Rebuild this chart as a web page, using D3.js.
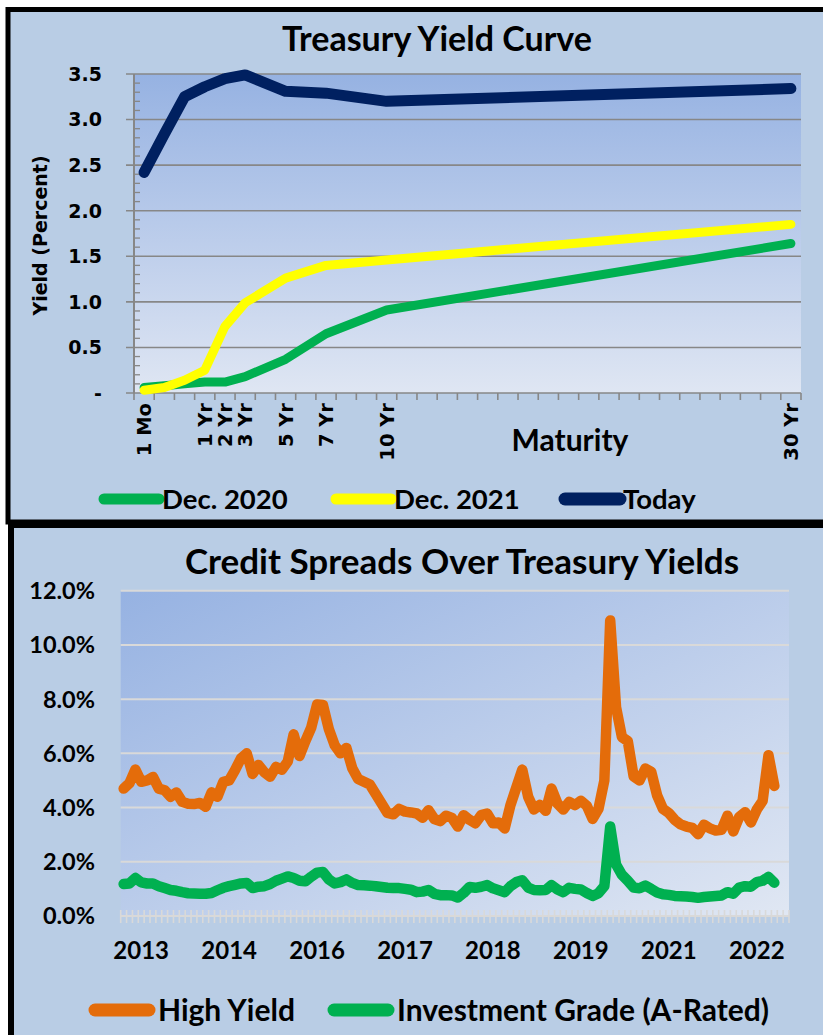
<!DOCTYPE html>
<html>
<head>
<meta charset="utf-8">
<script src="https://cdn.jsdelivr.net/npm/d3@7"></script>
<style>
  html, body { margin: 0; padding: 0; background: #ffffff; }
  svg { display: block; }
</style>
</head>
<body>
<svg id="chart" width="823" height="1035"></svg>
<script>
// ---- Treasury yield curve data ----
const maturityLabels = ["1 Mo", "3 Mo", "6 Mo", "1 Yr", "2 Yr", "3 Yr", "5 Yr", "7 Yr", "10 Yr", "30 Yr"];
// slot of each maturity on the 33-slot category axis
const maturitySlots = [0, 1, 2, 3, 4, 5, 7, 9, 12, 32];
const maturityTickLabels = ["1 Mo", "1 Yr", "2 Yr", "3 Yr", "5 Yr", "7 Yr", "10 Yr", "30 Yr"];
const yieldDec2020 = [0.06, 0.08, 0.10, 0.12, 0.12, 0.18, 0.37, 0.65, 0.91, 1.64];
const yieldDec2021 = [0.03, 0.06, 0.14, 0.25, 0.73, 0.99, 1.26, 1.40, 1.46, 1.85];
const yieldToday   = [2.42, 2.84, 3.25, 3.36, 3.45, 3.49, 3.31, 3.29, 3.20, 3.34];
const yieldTicks = [0, 0.5, 1.0, 1.5, 2.0, 2.5, 3.0, 3.5];

// ---- Credit spread data (monthly, from April 2013) ----
const spreadStart = new Date(2013, 3, 1);
const spreadAxisEnd = new Date(2022, 9, 1);
const highYield = [
  4.70, 4.90, 5.40, 4.95, 5.00, 5.13, 4.70, 4.64, 4.40, 4.56, 4.21, 4.14,
  4.13, 4.17, 4.03, 4.56, 4.40, 4.95, 5.00, 5.38, 5.81, 6.00, 5.24, 5.57,
  5.30, 5.14, 5.50, 5.40, 5.70, 6.70, 5.90, 6.45, 6.95, 7.80, 7.78, 6.90,
  6.30, 6.00, 6.20, 5.45, 5.05, 4.95, 4.85, 4.50, 4.15, 3.80, 3.75, 3.95,
  3.85, 3.82, 3.78, 3.62, 3.90, 3.58, 3.50, 3.70, 3.62, 3.30, 3.72, 3.55,
  3.42, 3.72, 3.78, 3.42, 3.45, 3.23, 4.10, 4.75, 5.40, 4.40, 3.93, 4.10,
  3.88, 4.70, 4.15, 3.93, 4.21, 4.09, 4.25, 4.07, 3.58, 3.95, 5.00, 10.90,
  7.70, 6.60, 6.45, 5.15, 5.00, 5.44, 5.32, 4.45, 3.95, 3.80, 3.55, 3.38,
  3.30, 3.25, 3.02, 3.37, 3.23, 3.15, 3.18, 3.70, 3.12, 3.65, 3.83, 3.45,
  3.92, 4.25, 5.93, 4.80
];
const investmentGrade = [
  1.18, 1.20, 1.40, 1.24, 1.20, 1.20, 1.10, 1.03, 0.96, 0.93, 0.88, 0.84,
  0.83, 0.82, 0.82, 0.85, 0.95, 1.04, 1.10, 1.15, 1.20, 1.22, 1.03, 1.08,
  1.10, 1.18, 1.30, 1.38, 1.46, 1.40, 1.30, 1.28, 1.45, 1.60, 1.62, 1.35,
  1.20, 1.25, 1.35, 1.22, 1.14, 1.13, 1.12, 1.10, 1.07, 1.04, 1.03, 1.03,
  1.00, 0.97, 0.88, 0.90, 0.96, 0.82, 0.77, 0.77, 0.76, 0.68, 0.85, 1.07,
  1.04, 1.08, 1.14, 1.02, 0.95, 0.88, 1.10, 1.25, 1.32, 1.05, 0.96, 0.95,
  0.96, 1.14, 0.98, 0.88, 1.04, 1.00, 0.98, 0.85, 0.74, 0.84, 1.10, 3.30,
  1.90, 1.52, 1.30, 1.05, 1.02, 1.12, 1.00, 0.87, 0.80, 0.78, 0.74, 0.73,
  0.72, 0.70, 0.67, 0.70, 0.72, 0.74, 0.76, 0.88, 0.82, 1.05, 1.10, 1.08,
  1.25, 1.30, 1.44, 1.23
];
// every 15th month carries a year label, starting with July 2013
const yearTickMonths = [3, 18, 33, 48, 63, 78, 93, 108];
const spreadTicks = [0, 2, 4, 6, 8, 10, 12];

const colors = {
  panel: "#b9cde5",
  navy: "#002060",
  yellow: "#ffff00",
  green: "#00b050",
  orange: "#e46c0a"
};
const titleFont = "Lato, 'Open Sans', sans-serif";
const axisFont = "'DejaVu Sans', Verdana, sans-serif";

const svg = d3.select("#chart");
const defs = svg.append("defs");

const gradTop = defs.append("linearGradient").attr("id", "plotTop")
  .attr("x1", 0).attr("y1", 0).attr("x2", 0).attr("y2", 1);
gradTop.append("stop").attr("offset", "0%").attr("stop-color", "#96b2e2");
gradTop.append("stop").attr("offset", "100%").attr("stop-color", "#dfe6f3");

const gradBottom = defs.append("linearGradient").attr("id", "plotBottom")
  .attr("x1", 0).attr("y1", 0).attr("x2", 1).attr("y2", 1);
gradBottom.append("stop").attr("offset", "0%").attr("stop-color", "#96b2e2");
gradBottom.append("stop").attr("offset", "100%").attr("stop-color", "#e0e7f3");

// ================= Panel 1: Treasury Yield Curve =================
svg.append("rect").attr("x", 8).attr("y", 9.5).attr("width", 900).attr("height", 512.5)
  .attr("fill", colors.panel).attr("stroke", "#000").attr("stroke-width", 5);

const curveBox = { left: 134, right: 801, top: 74, bottom: 393 };
const xCurve = d3.scaleBand().domain(d3.range(33)).range([curveBox.left, curveBox.right]);
const yCurve = d3.scaleLinear().domain([0, 3.5]).range([curveBox.bottom, curveBox.top]);
const slotX = s => xCurve(s) + xCurve.bandwidth() / 2;

svg.append("rect").attr("x", curveBox.left).attr("y", curveBox.top)
  .attr("width", curveBox.right - curveBox.left).attr("height", curveBox.bottom - curveBox.top)
  .attr("fill", "url(#plotTop)");

svg.append("text").attr("x", 437).attr("y", 51).attr("text-anchor", "middle")
  .attr("font-family", titleFont).attr("font-weight", 700).attr("font-size", 34)
  .text("Treasury Yield Curve");

// gridlines with outward major ticks
svg.append("g").selectAll("line").data(yieldTicks).join("line")
  .attr("x1", curveBox.left - 8).attr("x2", curveBox.right)
  .attr("y1", d => yCurve(d)).attr("y2", d => yCurve(d))
  .attr("stroke", "#878787").attr("stroke-width", 1.6);

// minor ticks every 0.1 inside the axis
svg.append("g").selectAll("line").data(d3.range(0, 36).filter(i => i % 5 !== 0)).join("line")
  .attr("x1", curveBox.left).attr("x2", curveBox.left + 6)
  .attr("y1", d => yCurve(d / 10)).attr("y2", d => yCurve(d / 10))
  .attr("stroke", "#878787").attr("stroke-width", 1.3);

svg.append("line").attr("x1", curveBox.left).attr("x2", curveBox.left)
  .attr("y1", curveBox.top).attr("y2", curveBox.bottom)
  .attr("stroke", "#878787").attr("stroke-width", 2);

// category boundary ticks on the maturity axis
svg.append("g").selectAll("line").data(d3.range(34)).join("line")
  .attr("x1", d => curveBox.left + d * xCurve.bandwidth()).attr("x2", d => curveBox.left + d * xCurve.bandwidth())
  .attr("y1", curveBox.bottom).attr("y2", curveBox.bottom + 7)
  .attr("stroke", "#878787").attr("stroke-width", 1.6);

svg.append("g").selectAll("text").data(yieldTicks).join("text")
  .attr("x", 102).attr("y", d => yCurve(d)).attr("dy", "0.36em")
  .attr("text-anchor", "end")
  .attr("font-family", axisFont).attr("font-weight", 700).attr("font-size", 19)
  .text(d => d === 0 ? "-" : d3.format(".1f")(d));

svg.append("text")
  .attr("transform", `translate(47,${(curveBox.top + curveBox.bottom) / 2 + 2}) rotate(-90)`)
  .attr("text-anchor", "middle")
  .attr("font-family", axisFont).attr("font-weight", 700).attr("font-size", 19)
  .text("Yield (Percent)");

svg.append("g").selectAll("text").data(maturityTickLabels).join("text")
  .attr("transform", d => `translate(${slotX(maturitySlots[maturityLabels.indexOf(d)])},${curveBox.bottom + 10}) rotate(-90)`)
  .attr("text-anchor", "end").attr("dy", "0.36em")
  .attr("font-family", axisFont).attr("font-weight", 700).attr("font-size", 19.5)
  .text(d => d);

svg.append("text").attr("x", 570).attr("y", 451).attr("text-anchor", "middle")
  .attr("font-family", titleFont).attr("font-weight", 700).attr("font-size", 30)
  .text("Maturity");

const curves = [
  { name: "Dec. 2020", values: yieldDec2020, color: colors.green, width: 9 },
  { name: "Dec. 2021", values: yieldDec2021, color: colors.yellow, width: 9 },
  { name: "Today", values: yieldToday, color: colors.navy, width: 11 }
];
const curveLine = d3.line().x((d, i) => slotX(maturitySlots[i])).y(d => yCurve(d));
svg.append("g").selectAll("path").data(curves).join("path")
  .attr("d", d => curveLine(d.values))
  .attr("fill", "none").attr("stroke", d => d.color).attr("stroke-width", d => d.width)
  .attr("stroke-linecap", "round").attr("stroke-linejoin", "round");

const legendCurve = svg.append("g").selectAll("g").data(curves).join("g")
  .attr("transform", (d, i) => `translate(${[104, 336, 565][i]},499)`);
legendCurve.append("line").attr("x1", 0).attr("x2", 55)
  .attr("stroke", d => d.color).attr("stroke-width", d => d.width + 2).attr("stroke-linecap", "round");
legendCurve.append("text").attr("x", 58).attr("y", 10)
  .attr("font-family", titleFont).attr("font-weight", 700).attr("font-size", 27.5)
  .text(d => d.name);

// ================= Panel 2: Credit Spreads =================
svg.append("rect").attr("x", 11).attr("y", 525).attr("width", 900).attr("height", 600)
  .attr("fill", colors.panel).attr("stroke", "#000").attr("stroke-width", 6);

const spreadBox = { left: 120.7, right: 789, top: 590.7, bottom: 916 };
const months = d3.timeMonth.range(spreadStart, spreadAxisEnd);
const xSpread = d3.scaleBand().domain(d3.range(months.length)).range([spreadBox.left, spreadBox.right]);
const ySpread = d3.scaleLinear().domain([0, 12]).range([spreadBox.bottom, spreadBox.top]);
const monthX = i => xSpread(i) + xSpread.bandwidth() / 2;

svg.append("rect").attr("x", spreadBox.left).attr("y", spreadBox.top)
  .attr("width", spreadBox.right - spreadBox.left).attr("height", spreadBox.bottom - spreadBox.top)
  .attr("fill", "url(#plotBottom)");

svg.append("text").attr("x", 462).attr("y", 574).attr("text-anchor", "middle")
  .attr("font-family", titleFont).attr("font-weight", 700).attr("font-size", 35)
  .text("Credit Spreads Over Treasury Yields");

svg.append("g").selectAll("line").data(spreadTicks.filter(d => d > 0)).join("line")
  .attr("x1", spreadBox.left).attr("x2", spreadBox.right)
  .attr("y1", d => ySpread(d)).attr("y2", d => ySpread(d))
  .attr("stroke", "#d9d9d9").attr("stroke-width", 2);

svg.append("line").attr("x1", spreadBox.left).attr("x2", spreadBox.right)
  .attr("y1", spreadBox.bottom).attr("y2", spreadBox.bottom)
  .attr("stroke", "#d9d9d9").attr("stroke-width", 2);
svg.append("g").selectAll("line").data(d3.range(months.length + 1)).join("line")
  .attr("x1", d => spreadBox.left + d * xSpread.bandwidth()).attr("x2", d => spreadBox.left + d * xSpread.bandwidth())
  .attr("y1", spreadBox.bottom - 6).attr("y2", spreadBox.bottom + 7)
  .attr("stroke", "#d9d9d9").attr("stroke-width", 1.6);

svg.append("g").selectAll("text").data(spreadTicks).join("text")
  .attr("x", 95).attr("y", d => ySpread(d)).attr("dy", "0.36em")
  .attr("text-anchor", "end")
  .attr("font-family", titleFont).attr("font-weight", 700).attr("font-size", 23.5)
  .text(d => d3.format(".1f")(d) + "%");

svg.append("g").selectAll("text").data(yearTickMonths).join("text")
  .attr("x", d => monthX(d)).attr("y", 959).attr("text-anchor", "middle")
  .attr("font-family", titleFont).attr("font-weight", 700).attr("font-size", 24)
  .text(d => d3.timeFormat("%Y")(months[d]));

const spreads = [
  { name: "High Yield", values: highYield, color: colors.orange },
  { name: "Investment Grade (A-Rated)", values: investmentGrade, color: colors.green }
];
const spreadLine = d3.line().x((d, i) => monthX(i)).y(d => ySpread(d));
svg.append("g").selectAll("path").data(spreads).join("path")
  .attr("d", d => spreadLine(d.values))
  .attr("fill", "none").attr("stroke", d => d.color).attr("stroke-width", 10.5)
  .attr("stroke-linecap", "round").attr("stroke-linejoin", "round");

const legendSpread = svg.append("g").selectAll("g").data(spreads).join("g")
  .attr("transform", (d, i) => `translate(${[95, 334][i]},1010)`);
legendSpread.append("line").attr("x1", 0).attr("x2", 54)
  .attr("stroke", d => d.color).attr("stroke-width", 13).attr("stroke-linecap", "round");
legendSpread.append("text").attr("x", 63).attr("y", 11)
  .attr("font-family", titleFont).attr("font-weight", 700).attr("font-size", 30)
  .text(d => d.name);
</script>
</body>
</html>
